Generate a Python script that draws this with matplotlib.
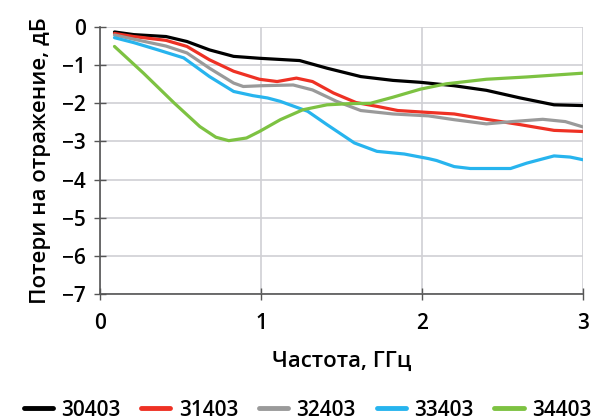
import matplotlib
matplotlib.use("Agg")
import matplotlib.pyplot as plt

plt.rcParams['font.family'] = ['Open Sans', 'DejaVu Sans']

x_black = [0.09, 0.21, 0.41, 0.54, 0.68, 0.83, 0.99, 1.24, 1.41, 1.62, 1.82, 1.99, 2.20, 2.40, 2.61, 2.82, 3.0]
y_black = [-0.13, -0.20, -0.25, -0.38, -0.60, -0.77, -0.82, -0.88, -1.08, -1.30, -1.40, -1.45, -1.54, -1.66, -1.86, -2.04, -2.06]

x_red = [0.09, 0.21, 0.41, 0.54, 0.68, 0.83, 0.99, 1.10, 1.22, 1.32, 1.45, 1.59, 1.72, 1.85, 2.04, 2.20, 2.40, 2.61, 2.82, 3.0]
y_red = [-0.17, -0.25, -0.35, -0.51, -0.86, -1.16, -1.37, -1.43, -1.34, -1.43, -1.73, -1.98, -2.08, -2.19, -2.24, -2.28, -2.42, -2.56, -2.71, -2.74]

x_gray = [0.09, 0.21, 0.41, 0.54, 0.68, 0.83, 0.89, 1.0, 1.20, 1.32, 1.47, 1.62, 1.82, 2.04, 2.20, 2.40, 2.56, 2.75, 2.89, 3.0]
y_gray = [-0.21, -0.32, -0.50, -0.68, -1.08, -1.47, -1.56, -1.54, -1.52, -1.65, -1.95, -2.19, -2.28, -2.33, -2.43, -2.54, -2.48, -2.42, -2.48, -2.62]

x_blue = [0.09, 0.21, 0.36, 0.52, 0.68, 0.83, 0.95, 1.04, 1.12, 1.29, 1.41, 1.58, 1.72, 1.89, 2.04, 2.09, 2.20, 2.30, 2.55, 2.65, 2.73, 2.82, 2.92, 3.0]
y_blue = [-0.28, -0.41, -0.60, -0.81, -1.30, -1.69, -1.80, -1.86, -1.95, -2.21, -2.56, -3.04, -3.26, -3.33, -3.45, -3.50, -3.66, -3.71, -3.71, -3.57, -3.48, -3.38, -3.41, -3.48]

x_green = [0.09, 0.27, 0.46, 0.62, 0.72, 0.80, 0.91, 0.99, 1.12, 1.26, 1.41, 1.55, 1.68, 1.82, 1.99, 2.15, 2.40, 2.65, 3.0]
y_green = [-0.51, -1.21, -1.99, -2.61, -2.89, -2.98, -2.91, -2.74, -2.43, -2.17, -2.04, -2.01, -2.00, -1.84, -1.63, -1.49, -1.37, -1.31, -1.21]

labels = ['30403', '31403', '32403', '33403', '34403']
colors = ['#000000', '#ee3124', '#9a9a9a', '#27b4ee', '#7dc242']

x_ticks = [0, 1, 2, 3]
y_ticks = [0, -1, -2, -3, -4, -5, -6, -7]

fig = plt.figure(figsize=(6.01, 4.19), dpi=100)
ax = fig.add_axes([100/601, 1-294/419, 483/601, 267/419])

series = [(x_black, y_black), (x_red, y_red), (x_gray, y_gray), (x_blue, y_blue), (x_green, y_green)]
for (xs, ys), lab, c in zip(series, labels, colors):
    ax.plot(xs, ys, color=c, lw=2.3, label=lab, solid_capstyle='round', solid_joinstyle='round')

ax.set_xlim(0, 3)
ax.set_ylim(-7, 0)
ax.set_xticks(x_ticks)
ax.set_yticks(y_ticks)
ax.set_yticklabels(['0' if v == 0 else '\u2212' + str(abs(v)) for v in y_ticks])
ax.grid(True, color='#d0d0d4', lw=1.2)
ax.set_axisbelow(True)
for s in ['top', 'right']:
    ax.spines[s].set_visible(False)
for s in ['left', 'bottom']:
    ax.spines[s].set_color('#555555')
    ax.spines[s].set_linewidth(1.2)
ax.tick_params(direction='inout', length=8, width=1.0, color='#555555', labelsize=15)
ax.tick_params(axis='x', pad=10)
ax.tick_params(axis='y', pad=6)
for t in ax.get_xticklabels() + ax.get_yticklabels():
    t.set_fontweight('semibold')

ax.set_xlabel('Частота, ГГц', fontsize=16, fontweight='semibold', labelpad=12)
ax.set_ylabel('Потери на отражение, дБ', fontsize=16, fontweight='semibold', labelpad=8)

leg = fig.legend(loc='center', bbox_to_anchor=(0.5115, 1-410/419), ncol=5, frameon=False,
                 fontsize=15, handlelength=1.4, handletextpad=0.4, columnspacing=1.0,
                 borderpad=0.1)
for line in leg.get_lines():
    line.set_linewidth(3.5)
for t in leg.get_texts():
    t.set_fontweight('semibold')

fig.savefig('out.png', dpi=100)
